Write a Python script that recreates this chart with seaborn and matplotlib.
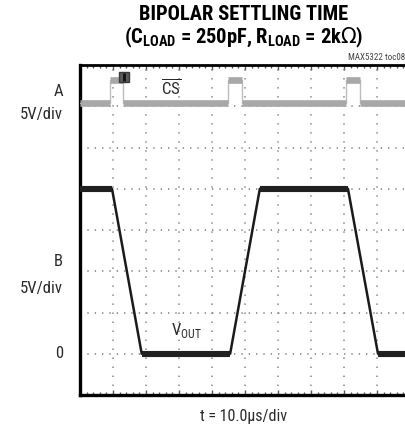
import numpy as np
import pandas as pd
import matplotlib
matplotlib.use("Agg")
import matplotlib.pyplot as plt
import seaborn as sns
from matplotlib import font_manager

# ---- data (in screen divisions) ----
cs_time = [0.0, 0.91, 0.91, 1.30, 1.30, 4.48, 4.48, 4.91, 4.91, 8.06, 8.06, 8.48, 8.48, 10.2]
cs_level = [7.07, 7.07, 7.64, 7.64, 7.07, 7.07, 7.64, 7.64, 7.07, 7.07, 7.64, 7.64, 7.07, 7.07]
vout_time = [0.0, 0.97, 1.87, 4.55, 5.45, 8.12, 9.03, 10.2]
vout_level = [5.0, 5.0, 1.0, 1.0, 5.0, 5.0, 1.0, 1.0]
trigger_time = [1.33]
trigger_level = [7.71]

sns.set_theme(style="white")
names = {f.name for f in font_manager.fontManager.ttflist}
fam, stretch = "DejaVu Sans", "condensed"
for c in ["Roboto Condensed", "Archivo Narrow", "Liberation Sans Narrow", "PT Sans Narrow"]:
    if c in names:
        fam, stretch = c, "normal"
        break
plt.rcParams['font.family'] = [fam, 'DejaVu Sans']
plt.rcParams['font.stretch'] = stretch

W, H = 406, 432
fig = plt.figure(figsize=(W / 100, H / 100), dpi=100)
fig.patch.set_facecolor("white")
L, T, R, B = 80, 65, 410, 395
ax = fig.add_axes([L / W, 1 - B / H, (R - L) / W, (B - T) / H])
ax.set_xlim(0, 10)
ax.set_ylim(0, 8)
ax.set_facecolor("white")

# dotted graticule
for xv in range(1, 10):
    ax.axvline(xv, color="#808080", lw=1.1, ls=(0, (0.9, 5.0)), zorder=1)
for yv in range(1, 8):
    ax.axhline(yv, color="#808080", lw=1.1, ls=(0, (0.9, 3.9)), zorder=1)

# CS trace (gray)
cs_df = pd.DataFrame({"t": cs_time, "v": cs_level})
sns.lineplot(data=cs_df, x="t", y="v", sort=False, estimator=None, ax=ax,
             color="#bdbdbd", lw=1.0, zorder=3)
for i in range(len(cs_time) - 1):
    if cs_level[i] == cs_level[i + 1]:
        sns.lineplot(x=cs_time[i:i + 2], y=cs_level[i:i + 2], ax=ax,
                     color="#a8a8a8", lw=4.8, zorder=3, solid_capstyle="butt")

# trigger marker
ax.plot(trigger_time, trigger_level, marker="s", ms=7.5, mfc="#5a5a5a",
        mec="#3a3a3a", mew=1.0, ls="none", zorder=5)
ax.plot(trigger_time, trigger_level, marker="|", ms=6, mec="#111111",
        mew=2.0, ls="none", zorder=6)

# VOUT trace (black)
v_df = pd.DataFrame({"t": vout_time, "v": vout_level})
sns.lineplot(data=v_df, x="t", y="v", sort=False, estimator=None, ax=ax,
             color="#1a1a1a", lw=1.8, zorder=4)
for i in range(len(vout_time) - 1):
    if vout_level[i] == vout_level[i + 1]:
        sns.lineplot(x=vout_time[i:i + 2], y=vout_level[i:i + 2], ax=ax,
                     color="#202020", lw=4.4, zorder=4, solid_capstyle="butt")

ax.set_xlabel("")
ax.set_ylabel("")
ax.set_xticks(np.arange(0, 10.01, 1))
ax.set_xticks(np.arange(0, 10.01, 0.2), minor=True)
ax.set_yticks([])
ax.tick_params(axis="x", which="both", direction="in", top=True, bottom=True,
               length=2.5, width=1.0, color="#555555", labelbottom=False)
ax.tick_params(axis="x", which="major", length=3.5)
for s in ["left", "bottom"]:
    ax.spines[s].set_color("black")
    ax.spines[s].set_linewidth(2.4)
ax.spines["top"].set_color("black")
ax.spines["top"].set_linewidth(2.0)
ax.spines["right"].set_visible(False)

def fx(px):
    return px / W

def fy(py):
    return 1 - py / H

cx = (L + R) / 2 - 1
tkw = dict(ha="center", va="center", fontsize=14.8, fontweight="bold", color="black",
           family=[fam, 'DejaVu Sans'], stretch=stretch)
fig.text(fx(cx), fy(14), "BIPOLAR SETTLING TIME", **tkw)
fig.text(fx(cx), fy(37.5),
         r"(C$_{\mathregular{LOAD}}$ = 250pF, R$_{\mathregular{LOAD}}$ = 2k$\Omega$)", **tkw)
fig.text(fx(405), fy(57), "MAX5322 toc08", ha="right", va="center",
         fontsize=6.5, color="#444444")

lab = dict(fontsize=12, color="#2a2a2a", ha="right", va="center")
fig.text(fx(63), fy(91), "A", **lab)
fig.text(fx(63), fy(114), "5V/div", **lab)
fig.text(fx(63), fy(261), "B", **lab)
fig.text(fx(63), fy(288), "5V/div", **lab)
fig.text(fx(63), fy(353), "0", **lab)
fig.text(fx(161), fy(87), r"$\overline{\mathregular{CS}}$", fontsize=12,
         color="#2a2a2a", ha="left", va="center")
fig.text(fx(171), fy(331), r"V$_{\mathregular{OUT}}$", fontsize=12,
         color="#2a2a2a", ha="left", va="center")
fig.text(fx(cx), fy(417), "t = 10.0\u00b5s/div", fontsize=11.5,
         color="#2a2a2a", ha="center", va="center")

fig.savefig("out.png", dpi=100, facecolor="white")
